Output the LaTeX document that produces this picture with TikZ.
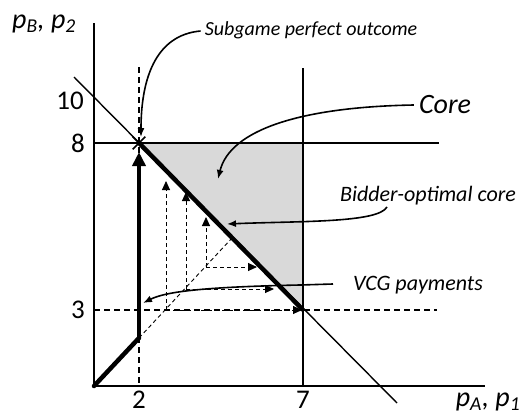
\documentclass[tikz,border=0pt]{standalone}
\usepackage{fontspec}
\setmainfont{Carlito}
\usetikzlibrary{arrows.meta,shapes.misc}
\definecolor{coregrey}{HTML}{D9D9D9}

\tikzset{
  axisline/.style={line width=1.4pt},
  dashline/.style={line width=1.4pt,dash pattern=on 6pt off 4pt},
  thindash/.style={line width=0.9pt,dash pattern=on 4pt off 3pt},
  heavy/.style={line width=4.5pt},
  callout/.style={line width=1.6pt,-{Latex[length=9pt,width=7pt]}},
  stairtip/.style={-{Triangle[length=9pt,width=8pt]}},
  ticklab/.style={font=\fontsize{27}{31}\selectfont,inner sep=0pt},
  notelab/.style={font=\fontsize{22}{26}\selectfont\itshape,inner sep=0pt}
}

\begin{document}
\begin{tikzpicture}[x=1pt,y=-1pt]
  \useasboundingbox (0,0) rectangle (522,415);

  % key points
  \coordinate (O) at (94,386);
  \coordinate (ytop) at (94,23);
  \coordinate (xend) at (485,386);
  \coordinate (sp) at (139,143);
  \coordinate (cc) at (303,143);
  \coordinate (vcg) at (303,310);
  \coordinate (kink) at (139,338);
  \coordinate (meet) at (232,238);

  % core region
  \fill[coregrey] (sp) -- (cc) -- (vcg) -- cycle;

  % axes and constraint lines
  \draw[axisline] (ytop) -- (O) -- (xend);
  \coordinate (d1) at (74,77);
  \coordinate (d2) at (397,403);
  \draw[axisline] (d1) -- (d2);
  \coordinate (h8a) at (94,143);
  \coordinate (h8b) at (439,143);
  \draw[axisline] (h8a) -- (h8b);
  \coordinate (v7a) at (303,68);
  \coordinate (v7b) at (303,386);
  \draw[axisline] (v7a) -- (v7b);
  \coordinate (v2a) at (139,67);
  \coordinate (v2b) at (139,386);
  \draw[dashline] (v2a) -- (v2b);
  \coordinate (h3a) at (94,310);
  \coordinate (h3b) at (437,310);
  \draw[dashline] (h3a) -- (h3b);

  % ascending staircase
  \draw[thindash] (kink) -- (meet);
  \foreach \x/\y/\top/\rgt in {166/310/181/302,186/289/192/274,206/267/217/257}{
    \draw[thindash,stairtip] (\x,\y) -- (\x,\top);
    \draw[thindash,stairtip] (\x,\y) -- (\rgt,\y);}

  % the path taken
  \draw[heavy,line cap=round] (O) -- (kink);
  \coordinate (uptip) at (139,152);
  \draw[heavy,-{Triangle[length=14pt,width=13pt]}] (kink) -- (uptip);
  \draw[heavy] (sp) -- (vcg);
  \node[cross out,draw,line width=1.6pt,minimum size=11pt,inner sep=0pt] (spx) at (sp) {};

  % tick labels
  \node[ticklab] (t10) at (70,101) {10};
  \node[ticklab] (t8) at (78,143) {8};
  \node[ticklab] (t3) at (78,310) {3};
  \node[ticklab] (t2) at (139,400) {2};
  \node[ticklab] (t7) at (303,400) {7};
  \node[ticklab,font=\fontsize{28}{32}\selectfont\itshape] (ylab) at (44,24)
    {p\textsubscript{B}, p\textsubscript{2}};
  \node[ticklab,font=\fontsize{28}{32}\selectfont\itshape] (xlab) at (488,402)
    {p\textsubscript{A}, p\textsubscript{1}};

  % annotations
  \node[notelab,font=\fontsize{20}{24}\selectfont\itshape] (subg) at (311,30) {Subgame perfect outcome};
  \node[notelab,font=\fontsize{28}{32}\selectfont\itshape] (core) at (445,105) {Core};
  \node[notelab] (bopt) at (428,196) {Bidder-optimal core};
  \node[notelab] (vcgtxt) at (418,285) {VCG payments};

  \coordinate (subgend) at (141,137);
  \draw[callout] (subg.west) ++(-4,1) .. controls (155,35) and (141,80) .. (subgend);
  \coordinate (coreend) at (218,179);
  \draw[callout] (core.west) ++(-5,0) .. controls (300,107) and (230,130) .. (coreend);
  \coordinate (boptend) at (227,224);
  \draw[callout] (387,207) .. controls (378,223) and (300,221) .. (boptend);
  \coordinate (vcgend) at (143,303);
  \draw[callout] (333,284) -- (300,285) .. controls (200,287) and (165,292) .. (vcgend);
\end{tikzpicture}
\end{document}
